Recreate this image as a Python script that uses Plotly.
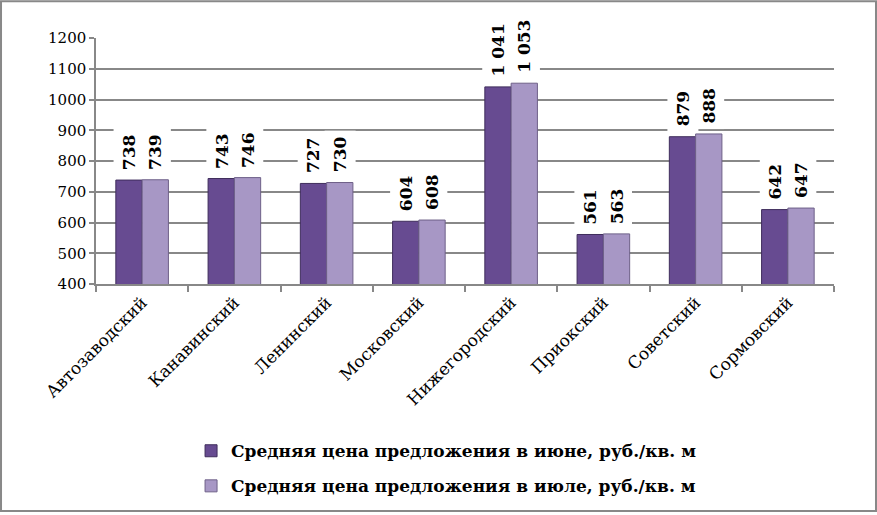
import plotly.graph_objects as go

# районы и средние цены, руб./кв. м
districts = ["Автозаводский", "Канавинский", "Ленинский", "Московский",
             "Нижегородский", "Приокский", "Советский", "Сормовский"]
june = [738, 743, 727, 604, 1041, 561, 879, 642]
july = [739, 746, 730, 608, 1053, 563, 888, 647]
june_text = ["738", "743", "727", "604", "1 041", "561", "879", "642"]
july_text = ["739", "746", "730", "608", "1 053", "563", "888", "647"]

serif = "DejaVu Serif"

fig = go.Figure()
fig.add_trace(go.Bar(
    x=districts, y=june,
    name="<b>Средняя цена предложения в июне, руб./кв. м</b>",
    legendgroup="a",
    marker=dict(color="#674b91", line=dict(color="#3f2d5c", width=1)),
))
fig.add_trace(go.Bar(
    x=districts, y=july,
    name="<b>Средняя цена предложения в июле, руб./кв. м</b>",
    legendgroup="b",
    marker=dict(color="#a797c5", line=dict(color="#6e6088", width=1)),
))

# подписи значений над столбцами
for d, v, t in zip(districts, june, june_text):
    fig.add_annotation(x=d, y=v, text="<b>%s</b>" % t, textangle=-90,
                       showarrow=False, yanchor="bottom", xshift=-13, yshift=4,
                       bgcolor="white", borderpad=5,
                       font=dict(family=serif, size=17, color="black"))
for d, v, t in zip(districts, july, july_text):
    fig.add_annotation(x=d, y=v, text="<b>%s</b>" % t, textangle=-90,
                       showarrow=False, yanchor="bottom", xshift=13, yshift=4,
                       bgcolor="white", borderpad=5,
                       font=dict(family=serif, size=17, color="black"))

# рамка вокруг диаграммы
fig.add_shape(type="rect", xref="paper", yref="paper",
              x0=-0.1287, x1=1.0569, y0=-0.923, y1=1.1498,
              line=dict(color="#888888", width=2))

fig.update_layout(
    width=877, height=515,
    margin=dict(l=96, r=43, t=38, b=230),
    paper_bgcolor="white", plot_bgcolor="white",
    barmode="group", bargap=0.43, bargroupgap=0,
    font=dict(family=serif, size=15, color="black"),
    showlegend=True,
    legend=dict(orientation="v", x=0.475, xanchor="center", y=-0.6, yanchor="top",
                font=dict(family=serif, size=17, color="black"),
                traceorder="grouped", tracegroupgap=10, itemwidth=30),
    xaxis=dict(showline=True, linecolor="#888888", linewidth=1.5,
               ticks="outside", tickson="boundaries", ticklen=6,
               tickcolor="#888888", tickwidth=1.5, tickangle=-45,
               tickfont=dict(family=serif, size=17)),
    yaxis=dict(range=[400, 1200], dtick=100, showline=True,
               linecolor="#888888", linewidth=1.5, ticks="outside", ticklen=5,
               tickcolor="#888888", tickwidth=1.5,
               showgrid=True, gridcolor="#888888", gridwidth=1.5,
               tickfont=dict(family=serif, size=15), zeroline=False),
)

fig.write_html("out.html", config={"displayModeBar": False},
               post_script="document.body.style.margin='0';")
